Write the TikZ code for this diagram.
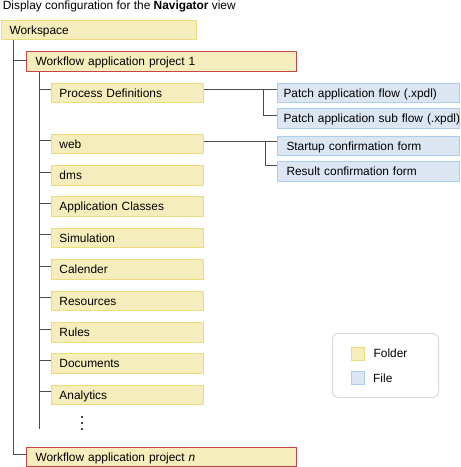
\documentclass[tikz,border=0pt]{standalone}
\usepackage{fontspec}
\setmainfont{Liberation Sans}
\usetikzlibrary{positioning,calc}
\definecolor{dirfill}{HTML}{F5EEBC}
\definecolor{dirline}{HTML}{EEDB7E}
\definecolor{prjline}{HTML}{C94444}
\definecolor{docfill}{HTML}{DCE6F2}
\definecolor{docline}{HTML}{ABCDEE}
\definecolor{treeline}{HTML}{4A4A4A}
\definecolor{keyline}{HTML}{DADADA}

\tikzset{
  lbl/.style={font=\fontsize{11.9}{14}\selectfont, text height=8.6pt, text depth=0pt, inner ysep=0pt},
  box/.style={lbl, anchor=north west, minimum height=19.5pt, align=left, line width=1pt},
  dirbox/.style={box, draw=dirline, fill=dirfill, inner xsep=8pt, text width=136pt},
  prjbox/.style={box, draw=prjline, fill=dirfill, inner xsep=9pt, text width=252pt},
  docbox/.style={box, draw=docline, fill=docfill, inner xsep=6pt, text width=170pt},
  swatch/.style={line width=1pt, minimum size=13pt, inner sep=0pt, anchor=north west},
  tree/.style={treeline, line width=1pt},
}

\begin{document}
\begin{tikzpicture}[x=1pt, y=-1pt]
    \useasboundingbox (0,0) rectangle (461,467);
    \node[lbl, anchor=base west, inner xsep=0pt] (title) at (2.7,9.5) {Display configuration for the \textbf{Navigator} view};
    % workspace and projects
    \node[dirbox, text width=179pt] (ws) at (1,19.5) {Workspace};
    \node[prjbox] (prj1) at (26,51) {Workflow application project 1};
    \node[prjbox] (prjn) at (26,446.5) {Workflow application project \textit{n}};
    % folders
    \node[dirbox] (pd) at (51,82.5) {Process Definitions};
    \node[dirbox] (web) at (51,133.7) {web};
    \node[dirbox] (dms) at (51,165) {dms};
    \node[dirbox] (cls) at (51,196.4) {Application Classes};
    \node[dirbox] (sim) at (51,227.8) {Simulation};
    \node[dirbox] (cal) at (51,259.2) {Calender};
    \node[dirbox] (res) at (51,290.6) {Resources};
    \node[dirbox] (rul) at (51,322) {Rules};
    \node[dirbox] (doc) at (51,353.4) {Documents};
    \node[dirbox] (ana) at (51,384.8) {Analytics};
    % files
    \node[docbox] (fa) at (277,82.5) {Patch application flow (.xpdl)};
    \node[docbox] (fb) at (277,108) {\mbox{Patch application sub flow (.xpdl)}};
    \node[docbox, inner xsep=9pt, text width=164pt] (fc) at (277,135.8) {Startup confirmation form};
    \node[docbox, inner xsep=9pt, text width=164pt] (fd) at (277,161.2) {Result confirmation form};

    % tree lines
    \coordinate (wsbar) at (13,454.3);
    \coordinate (p1bar) at (39,429);
    \coordinate (p1lin) at ([yshift=-9pt]prj1.north west);
    \draw[tree] (ws.south -| wsbar) -- (wsbar) -- (wsbar -| prjn.west);
    \draw[tree] (p1lin) -- (p1lin -| wsbar);
    \draw[tree] (prj1.south -| p1bar) -- (p1bar);
    \draw[tree] ([yshift=-7pt]pd.north west) -| (p1bar);
    \draw[tree] ([yshift=-7pt]web.north west) -| (p1bar);
    \draw[tree] ([yshift=-7pt]dms.north west) -| (p1bar);
    \draw[tree] ([yshift=-7pt]cls.north west) -| (p1bar);
    \draw[tree] ([yshift=-7pt]sim.north west) -| (p1bar);
    \draw[tree] ([yshift=-7pt]cal.north west) -| (p1bar);
    \draw[tree] ([yshift=-7pt]res.north west) -| (p1bar);
    \draw[tree] ([yshift=-7pt]rul.north west) -| (p1bar);
    \draw[tree] ([yshift=-7pt]doc.north west) -| (p1bar);
    \draw[tree] ([yshift=-7pt]ana.north west) -| (p1bar);
    \coordinate (falin) at ([yshift=-7.4pt]fa.north west);
    \coordinate (fblin) at ([yshift=-7pt]fb.north west);
    \coordinate (fclin) at ([yshift=-5.2pt]fc.north west);
    \coordinate (fdlin) at ([yshift=-4.6pt]fd.north west);
    \draw[tree] (pd.east |- falin) -- (falin);
    \draw[tree] ([xshift=-13.5pt]falin) |- (fblin);
    \draw[tree] (web.east |- fclin) -- (fclin);
    \draw[tree] ([xshift=-11.5pt]fclin) |- (fdlin);
    % more folders
    \fill (82,417) circle (1.1); \fill (82,423) circle (1.1); \fill (82,429) circle (1.1);

    % legend
    \node[draw=keyline, line width=1pt, rounded corners=6pt, minimum width=106pt, minimum height=64pt, anchor=north west] (key) at (332,333) {};
    \node[swatch, draw=dirline, fill=dirfill] (keydir) at (350.5,346.5) {};
    \node[lbl, inner xsep=0pt, right=9pt of keydir] (keydirtxt) {Folder};
    \node[swatch, draw=docline, fill=docfill] (keydoc) at (350.5,371) {};
    \node[lbl, inner xsep=0pt, right=8.5pt of keydoc] (keydoctxt) {File};
\end{tikzpicture}
\end{document}
